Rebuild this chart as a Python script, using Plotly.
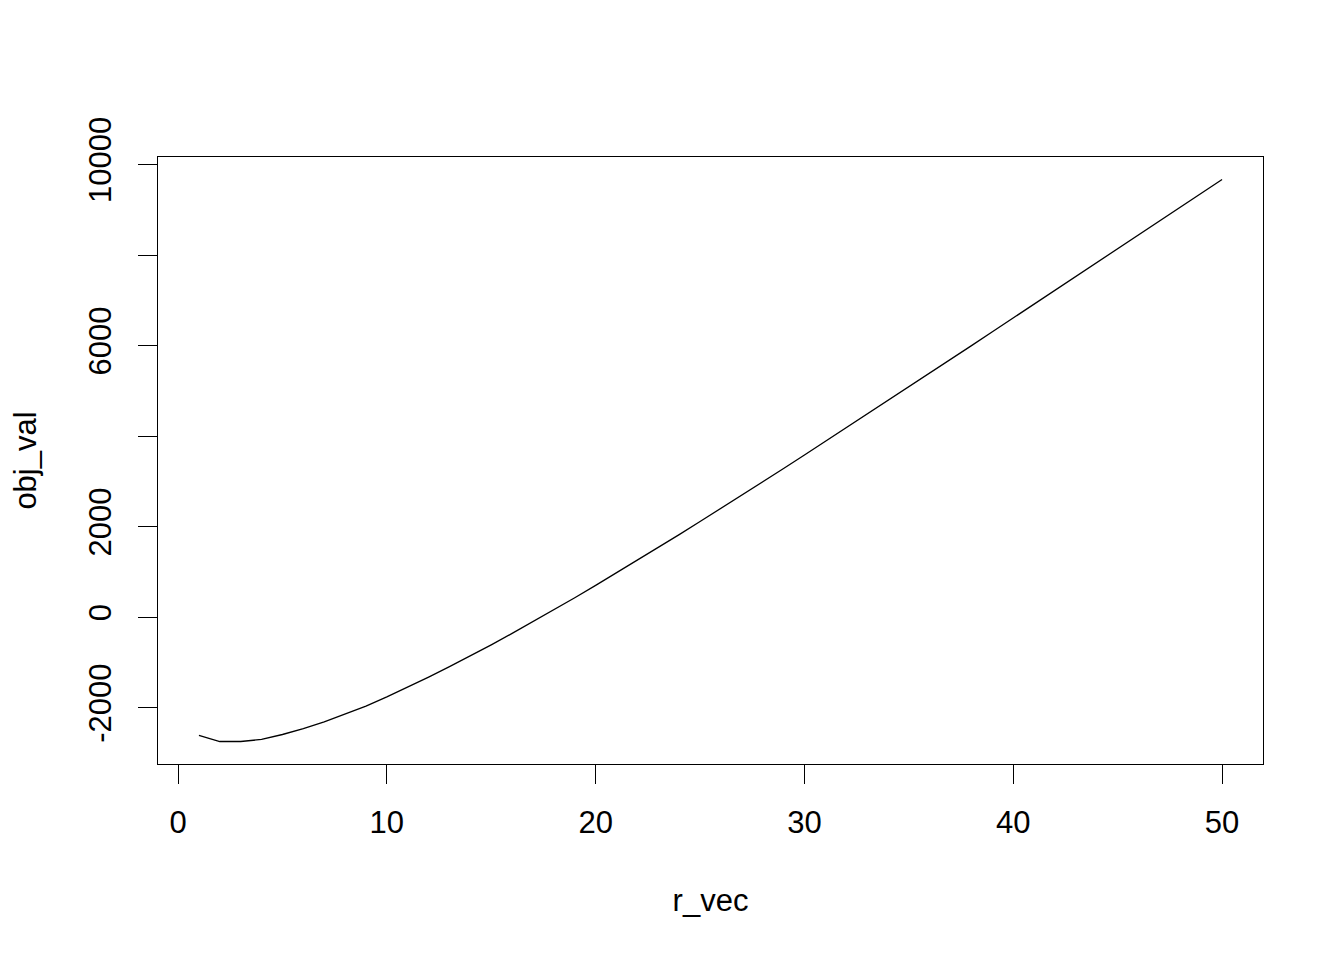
import plotly.graph_objects as go

r_vec = list(range(1, 51))
obj_val = [-2611, -2745, -2745, -2700, -2590, -2460, -2310, -2145, -1965, -1760,
           -1545, -1322, -1092, -856, -610, -358, -100, 163, 431, 703,
           979, 1258, 1540, 1825, 2113, 2403, 2695, 2989, 3285, 3583,
           3883, 4184, 4486, 4788, 5090, 5392, 5695, 5999, 6304, 6610,
           6912, 7215, 7519, 7824, 8131, 8438, 8745, 9053, 9360, 9668]

x_ticks = [0, 10, 20, 30, 40, 50]
y_ticks = [-2000, 0, 2000, 4000, 6000, 8000, 10000]
y_ticktext = ["-2000", "0", "2000", "", "6000", "", "10000"]

def ext(v):
    lo, hi = min(v), max(v)
    d = (hi - lo) * 0.04
    return [lo - d, hi + d]

font = dict(family="Liberation Sans, Arial, sans-serif", size=31, color="black")

fig = go.Figure(go.Scatter(x=r_vec, y=obj_val, mode="lines",
                           line=dict(color="black", width=1.3)))

fig.update_layout(
    width=1344, height=960,
    margin=dict(l=150, r=89, t=149, b=204),
    paper_bgcolor="white", plot_bgcolor="white",
    font=font, showlegend=False,
)
fig.update_xaxes(range=ext(r_vec), tickvals=x_ticks, ticktext=[str(t) for t in x_ticks],
                 ticks="outside", ticklen=19, tickwidth=1, tickcolor="black",
                 showline=True, mirror=True, linecolor="black", linewidth=1,
                 showgrid=False, zeroline=False, tickfont=font, ticklabelstandoff=12,
                 title=dict(text="r_vec", font=font, standoff=50))
fig.update_yaxes(range=ext(obj_val), tickvals=y_ticks, ticktext=y_ticktext,
                 ticks="outside", ticklen=19, tickwidth=1, tickcolor="black",
                 showline=True, mirror=True, linecolor="black", linewidth=1,
                 showgrid=False, zeroline=False, tickfont=font, tickangle=-90,
                 ticklabelstandoff=15,
                 title=dict(text="obj_val", font=font, standoff=40))

fig.write_html("out.html")
